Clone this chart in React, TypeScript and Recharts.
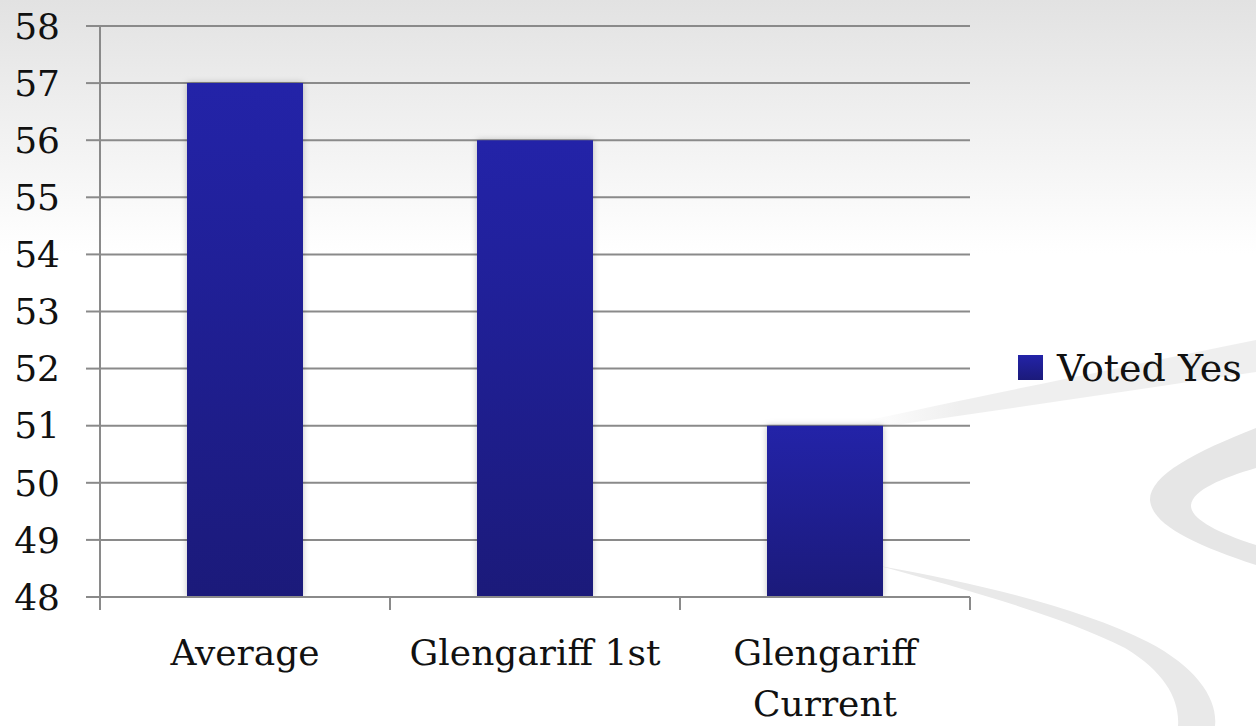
import { BarChart, Bar, XAxis, YAxis, CartesianGrid, Legend } from 'recharts';

// categories and values
const categories = ['Average', 'Glengariff 1st', 'Glengariff Current'];
const votedYes = [57, 56, 51];
const yTicks = [48, 49, 50, 51, 52, 53, 54, 55, 56, 57, 58];
const seriesName = 'Voted Yes';

const data = categories.map((name, i) => ({ name, votedYes: votedYes[i] }));

const FONT = 'DejaVu Serif';
const AXIS_GREY = '#8a8a8a';
const MAX_LINE_CHARS = 14;

// greedy word wrap for the category labels
function wrapLabel(label: string) {
  const lines: string[] = [];
  let cur = '';
  for (const w of label.split(' ')) {
    const next = cur ? cur + ' ' + w : w;
    if (next.length > MAX_LINE_CHARS && cur) {
      lines.push(cur);
      cur = w;
    } else {
      cur = next;
    }
  }
  if (cur) lines.push(cur);
  return lines;
}

function CategoryTick(props: any) {
  const { x, y, payload, index, visibleTicksCount } = props;
  const half = payload.offset ?? 0;
  const isLast = index === visibleTicksCount - 1;
  const lines = wrapLabel(String(payload.value));
  return (
    <g>
      <line x1={x - half} y1={y} x2={x - half} y2={y + 13} stroke={AXIS_GREY} strokeWidth={2} />
      {isLast && (
        <line x1={x + half} y1={y} x2={x + half} y2={y + 13} stroke={AXIS_GREY} strokeWidth={2} />
      )}
      <text x={x} y={y + 68} textAnchor="middle" fontFamily={FONT} fontSize={36} fill="#111">
        {lines.map((l, i) => (
          <tspan key={i} x={x} dy={i === 0 ? 0 : 51}>
            {l}
          </tspan>
        ))}
      </text>
    </g>
  );
}

function LegendBox() {
  return (
    <svg width={246} height={60}>
      <defs>
        <linearGradient id="legendFill" x1="0" y1="0" x2="0" y2="1">
          <stop offset="0%" stopColor="#2323a8" />
          <stop offset="100%" stopColor="#1b1a7a" />
        </linearGradient>
      </defs>
      <rect x={8} y={15} width={25} height={25} fill="url(#legendFill)" />
      <text x={47} y={41} fontFamily={FONT} fontSize={38} fill="#111">
        {seriesName}
      </text>
    </svg>
  );
}

function Backdrop() {
  // decorative swoosh in the slide background
  return (
    <svg width={1256} height={726} style={{ position: 'absolute', left: 0, top: 0 }}>
      <defs>
        <linearGradient id="bg" x1="0" y1="0" x2="0" y2="1">
          <stop offset="0%" stopColor="#e2e2e2" />
          <stop offset="35%" stopColor="#ffffff" />
          <stop offset="100%" stopColor="#ffffff" />
        </linearGradient>
        <linearGradient id="bandFade" x1="0" y1="0" x2="1" y2="0">
          <stop offset="0%" stopColor="#efefef" stopOpacity={0} />
          <stop offset="25%" stopColor="#efefef" stopOpacity={1} />
          <stop offset="100%" stopColor="#efefef" stopOpacity={1} />
        </linearGradient>
      </defs>
      <rect width={1256} height={726} fill="url(#bg)" />
      <path d="M 860 422 C 960 400, 1100 372, 1256 340 L 1256 372 C 1120 392, 990 412, 860 430 Z" fill="url(#bandFade)" />
      <path d="M 1256 428 C 1195 452, 1150 475, 1150 500 C 1152 525, 1195 545, 1256 565 L 1256 545 C 1215 532, 1190 518, 1191 505 C 1193 490, 1222 478, 1256 468 Z" fill="#e6e6e6" />
      <path d="M 880 566 C 960 588, 1060 615, 1125 648 C 1165 672, 1180 700, 1178 726 L 1215 726 C 1218 700, 1198 668, 1148 642 C 1080 608, 980 584, 880 566 Z" fill="#e9e9e9" />
    </svg>
  );
}

export default function App() {
  return (
    <div style={{ position: 'absolute', left: 0, top: 0, width: 1256, height: 726, overflow: 'hidden' }}>
      <Backdrop />
      <div style={{ position: 'absolute', left: 0, top: 0 }}>
        <BarChart
          width={1256}
          height={726}
          data={data}
          margin={{ top: 26, right: 286, left: 0, bottom: 0 }}
          barCategoryGap="30%"
        >
          <defs>
            <linearGradient id="barFill" x1="0" y1="0" x2="0" y2="1">
              <stop offset="0%" stopColor="#2323a8" />
              <stop offset="100%" stopColor="#1b1a7a" />
            </linearGradient>
          </defs>
          <CartesianGrid vertical={false} stroke={AXIS_GREY} strokeWidth={2} />
          <XAxis
            dataKey="name"
            height={129}
            tickSize={0}
            tickMargin={0}
            tickLine={false}
            axisLine={{ stroke: AXIS_GREY, strokeWidth: 2 }}
            tick={<CategoryTick />}
            interval={0}
          />
          <YAxis
            width={100}
            domain={[48, 58]}
            ticks={yTicks}
            allowDataOverflow
            tickSize={14}
            tickMargin={26}
            tickLine={{ stroke: AXIS_GREY, strokeWidth: 2 }}
            axisLine={{ stroke: AXIS_GREY, strokeWidth: 2 }}
            tick={{ fontFamily: FONT, fontSize: 36, fill: '#111' }}
          />
          <Legend
            layout="horizontal"
            align="center"
            verticalAlign="middle"
            wrapperStyle={{ left: 1010, top: 340, width: 246 }}
            content={() => <LegendBox />}
          />
          <Bar
            dataKey="votedYes"
            name={seriesName}
            fill="url(#barFill)"
            isAnimationActive={false}
            style={{ filter: 'drop-shadow(0 0 3px rgba(0,0,0,0.25))' }}
          />
        </BarChart>
      </div>
    </div>
  );
}
